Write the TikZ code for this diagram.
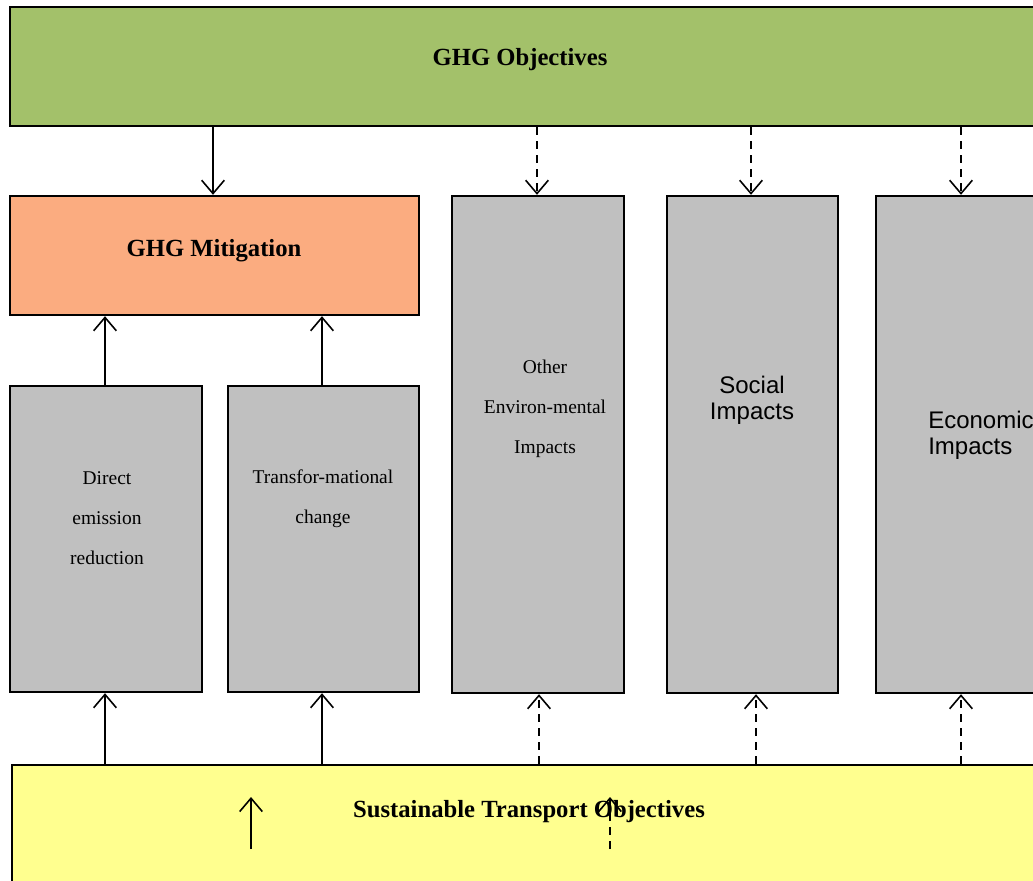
\documentclass[tikz,border=0pt]{standalone}
\usepackage{fontspec}
\setmainfont{Liberation Serif}
\newfontfamily\arialfont{Liberation Sans}
\usetikzlibrary{arrows.meta,fit}
\definecolor{ghggreen}{RGB}{163,193,106}
\definecolor{ghgorange}{RGB}{251,172,128}
\definecolor{boxgray}{RGB}{192,192,192}
\definecolor{stoyellow}{RGB}{255,255,143}
\begin{document}
\begin{tikzpicture}[x=0.75pt,y=-0.75pt,
  box/.style={draw=black, line width=1.8pt, inner sep=0pt},
  title/.style={font=\fontsize{18.5pt}{22pt}\selectfont\bfseries, inner sep=0pt},
  serif/.style={font=\fontsize{14.6pt}{30pt}\selectfont, align=center, inner sep=0pt},
  sans/.style={font=\arialfont\fontsize{18pt}{19.5pt}\selectfont, inner sep=0pt},
  arr/.style={line width=1.2pt, -{Straight Barb[length=10pt,width=17pt,line width=1.2pt]}},
  darr/.style={arr, dash pattern=on 6pt off 4.5pt}]
\useasboundingbox (0,0) rectangle (1033,881);
\clip (0,0) rectangle (1033,881);
% boxes
\node[box, fill=ghggreen, fit={(10,7) (1050,126)}] (ghgobj) {};
\node[box, fill=ghgorange, fit={(10,196) (419,315)}] (mitig) {};
\node[box, fill=boxgray, fit={(10,386) (202,692)}] (direct) {};
\node[box, fill=boxgray, fit={(228,386) (419,692)}] (transf) {};
\node[box, fill=boxgray, fit={(452,196) (624,693)}] (other) {};
\node[box, fill=boxgray, fit={(667,196) (838,693)}] (social) {};
\node[box, fill=boxgray, fit={(876,196) (1050,693)}] (econ) {};
\node[box, fill=stoyellow, fit={(12,765) (1050,900)}] (sto) {};
% texts
\node[title] (tobj) at (520,60) {GHG Objectives};
\node[title] (tmit) at (214,251) {GHG Mitigation};
\node[title] (tsto) at (529,812) {Sustainable Transport Objectives};
\node[serif] (tdirect) at (107,518) {Direct\\emission\\reduction};
\node[serif] (ttransf) at (323,499) {Transfor-mational\\change};
\node[serif] (tother) at (545,409) {Other\\Environ-mental\\Impacts};
\node[sans, align=center] (tsocial) at (752,400) {Social\\Impacts};
\node[sans, align=left, anchor=west] (tecon) at (928,435) {Economic\\Impacts};
% top arrows
\draw[arr]  (ghgobj.south -| 213,0) -- (mitig.north -| 213,0);
\draw[darr] (ghgobj.south -| 537,0) -- (other.north -| 537,0);
\draw[darr] (ghgobj.south -| 751,0) -- (social.north -| 751,0);
\draw[darr] (ghgobj.south -| 961,0) -- (econ.north -| 961,0);
% into mitigation
\draw[arr] (direct.north -| 105,0) -- (mitig.south -| 105,0);
\draw[arr] (transf.north -| 322,0) -- (mitig.south -| 322,0);
% from sustainable transport
\draw[arr]  (sto.north -| 105,0) -- (direct.south -| 105,0);
\draw[arr]  (sto.north -| 322,0) -- (transf.south -| 322,0);
\draw[darr] (sto.north -| 539,0) -- (other.south -| 539,0);
\draw[darr] (sto.north -| 756,0) -- (social.south -| 756,0);
\draw[darr] (sto.north -| 961,0) -- (econ.south -| 961,0);
% arrows inside the yellow box
\coordinate (s1) at (251,849);
\coordinate (e1) at (251,797);
\coordinate (s2) at (610,849);
\coordinate (e2) at (610,797);
\draw[arr] (s1) -- (e1);
\draw[darr] (s2) -- (e2);
\end{tikzpicture}
\end{document}
